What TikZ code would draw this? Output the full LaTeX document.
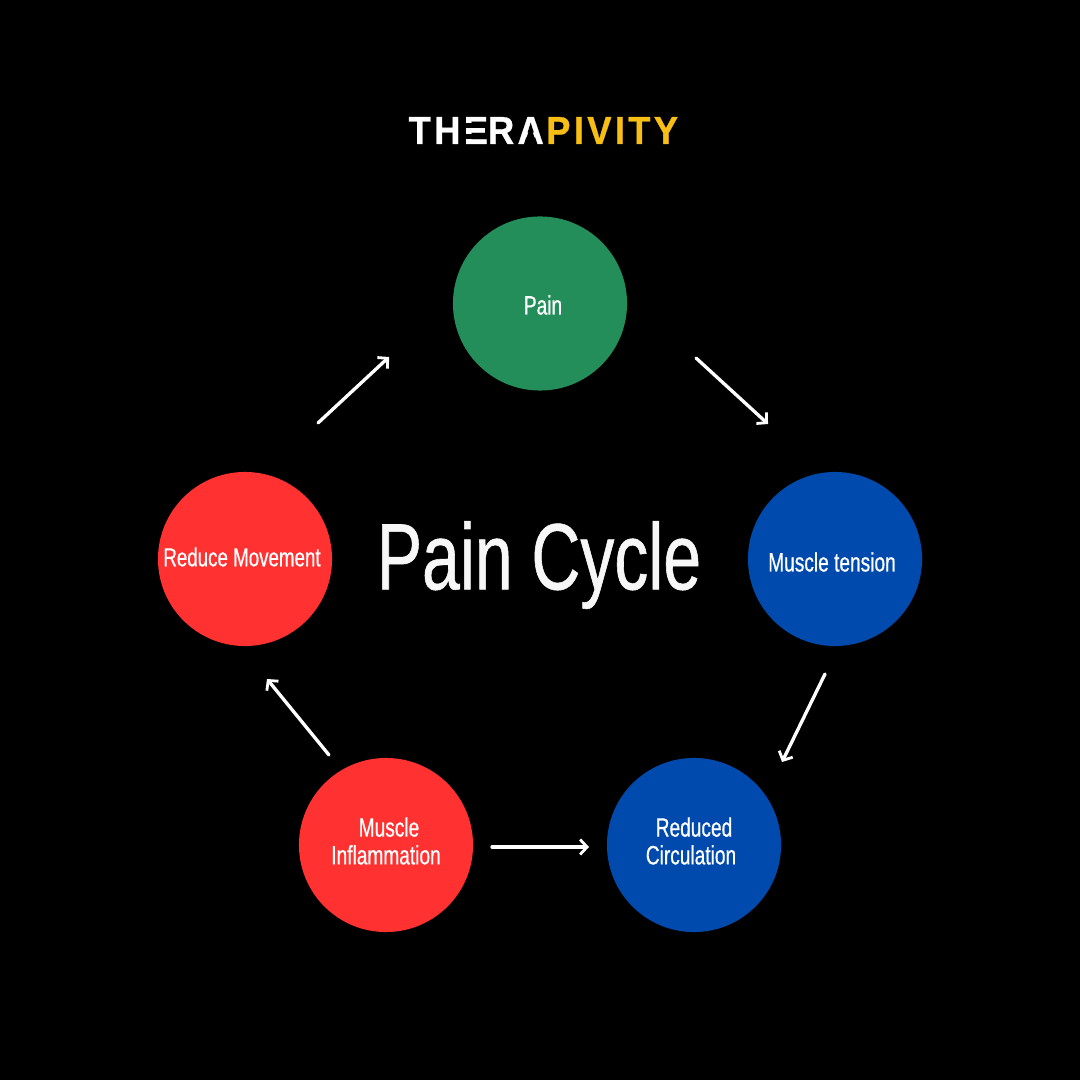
\documentclass[tikz,border=0pt]{standalone}
\usepackage{fontspec}
\setmainfont[FakeStretch=0.72,FakeBold=0.6]{Liberation Sans}
\newfontfamily\logofont[LetterSpace=8.6,FakeStretch=0.93,FakeBold=0.8]{Liberation Sans Bold}
\usetikzlibrary{arrows.meta}
\definecolor{pgreen}{HTML}{238E5A}
\definecolor{pblue}{HTML}{004AAD}
\definecolor{pred}{HTML}{FF3131}
\definecolor{logoyellow}{HTML}{F7BE16}
\newcommand{\barE}{E\llap{\textcolor{black}{\rule[0.125em]{0.66em}{0.125em}\hspace*{0.06em}}}\llap{\textcolor{black}{\rule[0.41em]{0.66em}{0.125em}\hspace*{0.06em}}}}
\tikzset{
 stagecircle/.style={circle,minimum size=1.74cm,inner sep=0pt},
 stagetext/.style={text=white,align=center,inner sep=0pt,font=\fontsize{7.55}{7.9}\selectfont},
 cyclearrow/.style={draw=white,line width=0.95pt,-{Straight Barb[length=0.7mm,width=1.5mm,line width=0.8pt]},line cap=round}
}
\begin{document}
\begin{tikzpicture}[x=0.01cm,y=-0.01cm]
\useasboundingbox (0,0) rectangle (1080,1080);
\fill[black] (0,0) rectangle (1080,1080);
\node[anchor=base west,inner sep=0pt,text=white,font=\logofont\fontsize{11.1}{11.1}\selectfont] (logo) at (408,144) {TH\barE RA\hspace*{0.7pt}\textcolor{logoyellow}{PIVITY}};
\fill[black] (524,145) -- (537,145) -- (530.5,126) -- cycle;
\node[stagecircle,fill=pgreen] (pain) at (540,303.5) {};
\node[stagecircle,fill=pblue] (tension) at (835,559) {};
\node[stagecircle,fill=pblue] (circ) at (694,845) {};
\node[stagecircle,fill=pred] (inflam) at (386,845) {};
\node[stagecircle,fill=pred] (move) at (245,559) {};
\node[stagetext] (painl) at (543,305) {Pain};
\node[stagetext] (tensionl) at (832,562) {Muscle tension};
\node[stagetext] (circl) at (691,841) {\hspace*{1.7pt}Reduced\\Circulation};
\node[stagetext] (inflaml) at (386,841) {\hspace*{1.7pt}Muscle\\Inflammation};
\node[stagetext,font=\fontsize{7.4}{7.9}\selectfont] (movel) at (242,557) {Reduce Movement};
\node[text=white!97!black,inner sep=0pt,font=\fontsize{26.8}{28}\selectfont] (title) at (539,565) {Pain Cycle};
\coordinate (a1) at (696,358); \coordinate (a2) at (768,424);
\coordinate (b1) at (825,674); \coordinate (b2) at (782,762);
\coordinate (c1) at (492,847); \coordinate (c2) at (589,847);
\coordinate (d1) at (329,755); \coordinate (d2) at (267,679);
\coordinate (e1) at (318,423); \coordinate (e2) at (389,357);
\draw[cyclearrow] (a1) -- (a2);
\draw[cyclearrow] (b1) -- (b2);
\draw[cyclearrow] (c1) -- (c2);
\draw[cyclearrow] (d1) -- (d2);
\draw[cyclearrow] (e1) -- (e2);
\end{tikzpicture}
\end{document}
